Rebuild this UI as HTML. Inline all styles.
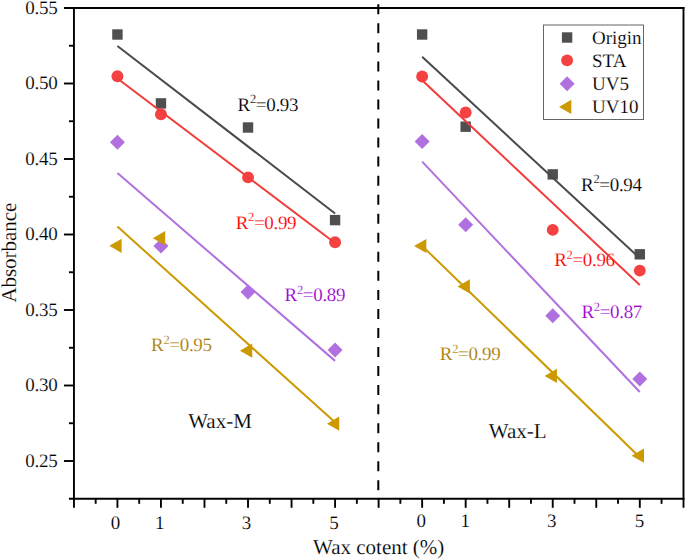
<!DOCTYPE html>
<html><head><meta charset="utf-8"><title>Absorbance vs Wax content</title>
<style>html,body{margin:0;padding:0;background:#fff;width:685px;height:559px;overflow:hidden}svg{display:block;font-family:"Liberation Serif",serif;text-rendering:geometricPrecision}svg text{stroke:#fff;stroke-width:0.15px;paint-order:fill stroke}</style>
</head><body>
<svg width="685" height="559" viewBox="0 0 685 559" font-family="Liberation Serif, serif">
<rect width="685" height="559" fill="#fff"/>
<rect x="112.23" y="29.30" width="10.4" height="10.4" fill="#4f4f4f"/>
<rect x="155.76" y="98.20" width="10.4" height="10.4" fill="#4f4f4f"/>
<rect x="242.82" y="122.30" width="10.4" height="10.4" fill="#4f4f4f"/>
<rect x="329.88" y="214.90" width="10.4" height="10.4" fill="#4f4f4f"/>
<rect x="416.94" y="29.30" width="10.4" height="10.4" fill="#4f4f4f"/>
<rect x="460.47" y="121.50" width="10.4" height="10.4" fill="#4f4f4f"/>
<rect x="547.53" y="169.20" width="10.4" height="10.4" fill="#4f4f4f"/>
<rect x="634.59" y="249.10" width="10.4" height="10.4" fill="#4f4f4f"/>
<line x1="117.43" y1="46.02" x2="335.08" y2="213.48" stroke="#4a4a4a" stroke-width="2"/>
<line x1="422.14" y1="56.85" x2="639.79" y2="258.24" stroke="#4a4a4a" stroke-width="2"/>
<circle cx="117.43" cy="76.20" r="5.95" fill="#f44242"/>
<circle cx="160.96" cy="114.20" r="5.95" fill="#f44242"/>
<circle cx="248.02" cy="177.40" r="5.95" fill="#f44242"/>
<circle cx="335.08" cy="242.30" r="5.95" fill="#f44242"/>
<circle cx="422.14" cy="76.50" r="5.95" fill="#f44242"/>
<circle cx="465.67" cy="112.50" r="5.95" fill="#f44242"/>
<circle cx="552.73" cy="229.90" r="5.95" fill="#f44242"/>
<circle cx="639.79" cy="270.60" r="5.95" fill="#f44242"/>
<line x1="117.43" y1="78.52" x2="335.08" y2="242.98" stroke="#f23c3c" stroke-width="2"/>
<line x1="422.14" y1="80.27" x2="639.79" y2="284.95" stroke="#f23c3c" stroke-width="2"/>
<path d="M109.93 142.30L117.43 134.80L124.93 142.30L117.43 149.80Z" fill="#b070e0"/>
<path d="M153.46 246.00L160.96 238.50L168.46 246.00L160.96 253.50Z" fill="#b070e0"/>
<path d="M240.52 291.90L248.02 284.40L255.52 291.90L248.02 299.40Z" fill="#b070e0"/>
<path d="M327.58 350.10L335.08 342.60L342.58 350.10L335.08 357.60Z" fill="#b070e0"/>
<path d="M414.64 141.60L422.14 134.10L429.64 141.60L422.14 149.10Z" fill="#b070e0"/>
<path d="M458.17 224.70L465.67 217.20L473.17 224.70L465.67 232.20Z" fill="#b070e0"/>
<path d="M545.23 315.70L552.73 308.20L560.23 315.70L552.73 323.20Z" fill="#b070e0"/>
<path d="M632.29 379.10L639.79 371.60L647.29 379.10L639.79 386.60Z" fill="#b070e0"/>
<line x1="117.43" y1="173.06" x2="335.08" y2="360.87" stroke="#b070e0" stroke-width="2"/>
<line x1="422.14" y1="161.57" x2="639.79" y2="392.02" stroke="#b070e0" stroke-width="2"/>
<path d="M109.33 245.80L121.63 238.70L121.63 252.90Z" fill="#cc9900"/>
<path d="M152.86 238.20L165.16 231.10L165.16 245.30Z" fill="#cc9900"/>
<path d="M239.92 350.70L252.22 343.60L252.22 357.80Z" fill="#cc9900"/>
<path d="M326.98 423.70L339.28 416.60L339.28 430.80Z" fill="#cc9900"/>
<path d="M414.04 246.00L426.34 238.90L426.34 253.10Z" fill="#cc9900"/>
<path d="M457.57 286.40L469.87 279.30L469.87 293.50Z" fill="#cc9900"/>
<path d="M544.63 375.90L556.93 368.80L556.93 383.00Z" fill="#cc9900"/>
<path d="M631.69 455.70L643.99 448.60L643.99 462.80Z" fill="#cc9900"/>
<line x1="117.43" y1="226.52" x2="335.08" y2="422.25" stroke="#cc9900" stroke-width="2"/>
<line x1="422.14" y1="245.87" x2="639.79" y2="457.26" stroke="#cc9900" stroke-width="2"/>
<line x1="73.95" y1="7.0" x2="73.95" y2="507.8" stroke="#000" stroke-width="1.9"/>
<line x1="683.5" y1="7.0" x2="683.5" y2="507.8" stroke="#000" stroke-width="1.9"/>
<line x1="63.95" y1="7.95" x2="684.45" y2="7.95" stroke="#000" stroke-width="1.9"/>
<line x1="68.95" y1="498.8" x2="684.45" y2="498.8" stroke="#000" stroke-width="1.9"/>
<line x1="68.95" y1="45.75" x2="73.95" y2="45.75" stroke="#000" stroke-width="1.9"/>
<line x1="63.95" y1="83.50" x2="73.95" y2="83.50" stroke="#000" stroke-width="1.9"/>
<line x1="68.95" y1="121.25" x2="73.95" y2="121.25" stroke="#000" stroke-width="1.9"/>
<line x1="63.95" y1="159.00" x2="73.95" y2="159.00" stroke="#000" stroke-width="1.9"/>
<line x1="68.95" y1="196.75" x2="73.95" y2="196.75" stroke="#000" stroke-width="1.9"/>
<line x1="63.95" y1="234.50" x2="73.95" y2="234.50" stroke="#000" stroke-width="1.9"/>
<line x1="68.95" y1="272.25" x2="73.95" y2="272.25" stroke="#000" stroke-width="1.9"/>
<line x1="63.95" y1="310.00" x2="73.95" y2="310.00" stroke="#000" stroke-width="1.9"/>
<line x1="68.95" y1="347.75" x2="73.95" y2="347.75" stroke="#000" stroke-width="1.9"/>
<line x1="63.95" y1="385.50" x2="73.95" y2="385.50" stroke="#000" stroke-width="1.9"/>
<line x1="68.95" y1="423.25" x2="73.95" y2="423.25" stroke="#000" stroke-width="1.9"/>
<line x1="63.95" y1="461.00" x2="73.95" y2="461.00" stroke="#000" stroke-width="1.9"/>
<line x1="95.67" y1="498.8" x2="95.67" y2="503.8" stroke="#000" stroke-width="1.9"/>
<line x1="117.43" y1="498.8" x2="117.43" y2="507.8" stroke="#000" stroke-width="1.9"/>
<line x1="139.19" y1="498.8" x2="139.19" y2="503.8" stroke="#000" stroke-width="1.9"/>
<line x1="160.96" y1="498.8" x2="160.96" y2="507.8" stroke="#000" stroke-width="1.9"/>
<line x1="182.73" y1="498.8" x2="182.73" y2="503.8" stroke="#000" stroke-width="1.9"/>
<line x1="204.49" y1="498.8" x2="204.49" y2="507.8" stroke="#000" stroke-width="1.9"/>
<line x1="226.26" y1="498.8" x2="226.26" y2="503.8" stroke="#000" stroke-width="1.9"/>
<line x1="248.02" y1="498.8" x2="248.02" y2="507.8" stroke="#000" stroke-width="1.9"/>
<line x1="269.78" y1="498.8" x2="269.78" y2="503.8" stroke="#000" stroke-width="1.9"/>
<line x1="291.55" y1="498.8" x2="291.55" y2="507.8" stroke="#000" stroke-width="1.9"/>
<line x1="313.32" y1="498.8" x2="313.32" y2="503.8" stroke="#000" stroke-width="1.9"/>
<line x1="335.08" y1="498.8" x2="335.08" y2="507.8" stroke="#000" stroke-width="1.9"/>
<line x1="356.85" y1="498.8" x2="356.85" y2="503.8" stroke="#000" stroke-width="1.9"/>
<line x1="378.61" y1="498.8" x2="378.61" y2="507.8" stroke="#000" stroke-width="1.9"/>
<line x1="400.38" y1="498.8" x2="400.38" y2="503.8" stroke="#000" stroke-width="1.9"/>
<line x1="422.14" y1="498.8" x2="422.14" y2="507.8" stroke="#000" stroke-width="1.9"/>
<line x1="443.90" y1="498.8" x2="443.90" y2="503.8" stroke="#000" stroke-width="1.9"/>
<line x1="465.67" y1="498.8" x2="465.67" y2="507.8" stroke="#000" stroke-width="1.9"/>
<line x1="487.44" y1="498.8" x2="487.44" y2="503.8" stroke="#000" stroke-width="1.9"/>
<line x1="509.20" y1="498.8" x2="509.20" y2="507.8" stroke="#000" stroke-width="1.9"/>
<line x1="530.97" y1="498.8" x2="530.97" y2="503.8" stroke="#000" stroke-width="1.9"/>
<line x1="552.73" y1="498.8" x2="552.73" y2="507.8" stroke="#000" stroke-width="1.9"/>
<line x1="574.50" y1="498.8" x2="574.50" y2="503.8" stroke="#000" stroke-width="1.9"/>
<line x1="596.26" y1="498.8" x2="596.26" y2="507.8" stroke="#000" stroke-width="1.9"/>
<line x1="618.02" y1="498.8" x2="618.02" y2="503.8" stroke="#000" stroke-width="1.9"/>
<line x1="639.79" y1="498.8" x2="639.79" y2="507.8" stroke="#000" stroke-width="1.9"/>
<line x1="661.55" y1="498.8" x2="661.55" y2="503.8" stroke="#000" stroke-width="1.9"/>
<line x1="378.3" y1="4.3" x2="378.3" y2="498.8" stroke="#000" stroke-width="2" stroke-dasharray="10 9.04"/>
<rect x="543.5" y="25" width="100" height="94.5" fill="#fff" stroke="#666" stroke-width="1"/>
<rect x="561.90" y="32.30" width="10.4" height="10.4" fill="#4f4f4f"/>
<text x="592" y="43.70" font-size="19">Origin</text>
<circle cx="567.10" cy="60.40" r="5.95" fill="#f44242"/>
<text x="592" y="66.60" font-size="19">STA</text>
<path d="M559.60 83.80L567.10 76.30L574.60 83.80L567.10 91.30Z" fill="#b070e0"/>
<text x="592" y="90.00" font-size="19">UV5</text>
<path d="M559.00 106.90L571.30 99.80L571.30 114.00Z" fill="#cc9900"/>
<text x="592" y="113.10" font-size="19">UV10</text>
<text x="57.4" y="13.50" font-size="19" letter-spacing="-0.3" text-anchor="end">0.55</text>
<text x="57.4" y="89.00" font-size="19" letter-spacing="-0.3" text-anchor="end">0.50</text>
<text x="57.4" y="164.50" font-size="19" letter-spacing="-0.3" text-anchor="end">0.45</text>
<text x="57.4" y="240.00" font-size="19" letter-spacing="-0.3" text-anchor="end">0.40</text>
<text x="57.4" y="315.50" font-size="19" letter-spacing="-0.3" text-anchor="end">0.35</text>
<text x="57.4" y="391.00" font-size="19" letter-spacing="-0.3" text-anchor="end">0.30</text>
<text x="57.4" y="466.50" font-size="19" letter-spacing="-0.3" text-anchor="end">0.25</text>
<text x="115.60" y="528.7" font-size="19" text-anchor="middle">0</text>
<text x="159.70" y="528.7" font-size="19" text-anchor="middle">1</text>
<text x="246.55" y="528.7" font-size="19" text-anchor="middle">3</text>
<text x="334.00" y="528.7" font-size="19" text-anchor="middle">5</text>
<text x="421.30" y="527.1" font-size="19" text-anchor="middle">0</text>
<text x="465.30" y="527.1" font-size="19" text-anchor="middle">1</text>
<text x="551.65" y="527.1" font-size="19" text-anchor="middle">3</text>
<text x="639.50" y="527.1" font-size="19" text-anchor="middle">5</text>
<text x="378.7" y="553.9" font-size="21" text-anchor="middle">Wax cotent (%)</text>
<text transform="translate(15.6 252.7) rotate(-90)" x="0" y="0" font-size="21" letter-spacing="-0.05" text-anchor="middle">Absorbance</text>
<text x="220" y="427.6" font-size="21" text-anchor="middle">Wax-M</text>
<text x="517.7" y="437.9" font-size="21" text-anchor="middle">Wax-L</text>
<text x="237.6" y="110.6" font-size="19" letter-spacing="-0.33" fill="#000">R<tspan font-size="12.5" dy="-7.2">2</tspan><tspan dy="7.2">=0.93</tspan></text>
<text x="235.7" y="228.6" font-size="19" letter-spacing="-0.33" fill="#ff0000">R<tspan font-size="12.5" dy="-7.2">2</tspan><tspan dy="7.2">=0.99</tspan></text>
<text x="284.6" y="300.9" font-size="19" letter-spacing="-0.33" fill="#9c00d0">R<tspan font-size="12.5" dy="-7.2">2</tspan><tspan dy="7.2">=0.89</tspan></text>
<text x="151.1" y="351.4" font-size="19" letter-spacing="-0.33" fill="#a87d05">R<tspan font-size="12.5" dy="-7.2">2</tspan><tspan dy="7.2">=0.95</tspan></text>
<text x="581.1" y="190.6" font-size="19" letter-spacing="-0.33" fill="#000">R<tspan font-size="12.5" dy="-7.2">2</tspan><tspan dy="7.2">=0.94</tspan></text>
<text x="554.2" y="266.1" font-size="19" letter-spacing="-0.33" fill="#ff0000">R<tspan font-size="12.5" dy="-7.2">2</tspan><tspan dy="7.2">=0.96</tspan></text>
<text x="581.4" y="317.7" font-size="19" letter-spacing="-0.33" fill="#9c00d0">R<tspan font-size="12.5" dy="-7.2">2</tspan><tspan dy="7.2">=0.87</tspan></text>
<text x="439.8" y="359.9" font-size="19" letter-spacing="-0.33" fill="#a87d05">R<tspan font-size="12.5" dy="-7.2">2</tspan><tspan dy="7.2">=0.99</tspan></text>
</svg>
</body></html>
